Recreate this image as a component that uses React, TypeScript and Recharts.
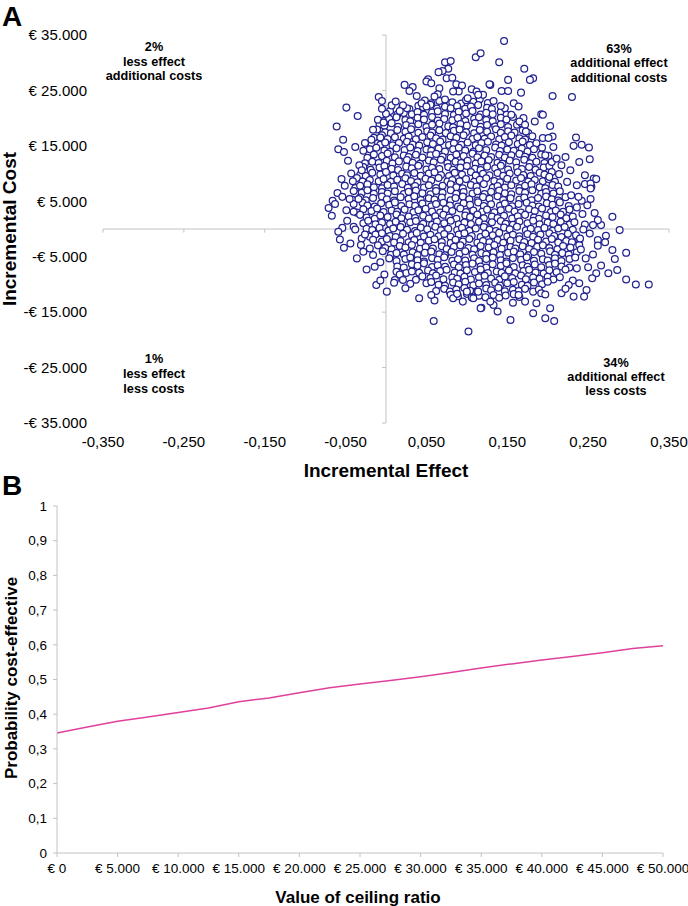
import { ScatterChart, Scatter, XAxis, YAxis, ReferenceLine, LineChart, Line } from 'recharts';

// Panel A: bootstrap replicates as [incremental effect, incremental cost €]
// dense body of the cloud, read row by row from top to bottom
const denseCloud: [number, number][] = [
  [.048,23200],[.056,22700],[.066,23100],[.073,23350],[.082,22850],[.093,22650],[.099,23250],[.108,22950],[.116,23400],[.126,22750],
  [.020,21850],[.029,21650],[.040,22250],[.046,21950],[.055,22400],[.063,21750],[.073,22050],[.080,21800],[.088,22200],[.098,21700],[.105,22100],[.114,22350],[.125,21850],[.131,21650],
  [.005,21300],[.014,20650],[.022,20950],[.032,20700],[.039,21100],[.047,20600],[.057,21000],[.064,21250],[.073,20750],[.084,20550],[.090,21150],[.099,20850],[.107,21300],[.117,20650],[.124,20950],[.132,20700],[.142,21100],[.149,20600],
  [-.003,19500],[.004,19900],[.013,20150],[.024,19650],[.030,19450],[.039,20050],[.047,19750],[.057,20200],[.064,19550],[.072,19850],[.082,19600],[.089,20000],[.098,19500],[.109,19900],[.115,20150],[.124,19650],[.132,19450],[.142,20050],[.149,19750],[.157,20200],
  [-.008,18950],[-.002,18650],[.007,19100],[.015,18450],[.025,18750],[.032,18500],[.040,18900],[.050,18400],[.057,18800],[.066,19050],[.077,18550],[.083,18350],[.092,18950],[.100,18650],[.110,19100],[.117,18450],[.125,18750],[.135,18500],[.142,18900],[.151,18400],[.162,18800],[.168,19050],
  [-.011,17950],[-.001,17450],[.006,17250],[.014,17850],[.024,17550],[.031,18000],[.040,17350],[.051,17650],[.057,17400],[.066,17800],[.074,17300],[.084,17700],[.091,17950],[.099,17450],[.109,17250],[.116,17850],[.125,17550],[.136,18000],[.142,17350],[.151,17650],[.159,17400],[.169,17800],[.176,17300],
  [-.015,16450],[-.005,16900],[.002,16250],[.011,16550],[.022,16300],[.028,16700],[.037,16200],[.045,16600],[.055,16850],[.062,16350],[.070,16150],[.080,16750],[.087,16450],[.096,16900],[.107,16250],[.113,16550],[.122,16300],[.130,16700],[.140,16200],[.147,16600],[.155,16850],[.165,16350],[.172,16150],[.181,16750],
  [-.018,15450],[-.007,15200],[-.001,15600],[.008,15100],[.016,15500],[.026,15750],[.033,15250],[.041,15050],[.051,15650],[.058,15350],[.067,15800],[.078,15150],[.084,15450],[.093,15200],[.101,15600],[.111,15100],[.118,15500],[.126,15750],[.136,15250],[.143,15050],[.152,15650],[.163,15350],[.169,15800],[.178,15150],[.186,15450],
  [-.020,14400],[-.012,14650],[-.002,14150],[.005,13950],[.013,14550],[.023,14250],[.030,14700],[.039,14050],[.050,14350],[.056,14100],[.065,14500],[.073,14000],[.083,14400],[.090,14650],[.098,14150],[.108,13950],[.115,14550],[.124,14250],[.135,14700],[.141,14050],[.150,14350],[.158,14100],[.168,14500],[.175,14000],[.183,14400],[.193,14650],
  [-.023,12850],[-.015,13450],[-.005,13150],[.002,13600],[.011,12950],[.022,13250],[.028,13000],[.037,13400],[.045,12900],[.055,13300],[.062,13550],[.070,13050],[.080,12850],[.087,13450],[.096,13150],[.107,13600],[.113,12950],[.122,13250],[.130,13000],[.140,13400],[.147,12900],[.155,13300],[.165,13550],[.172,13050],[.181,12850],[.192,13450],
  [-.026,11850],[-.017,12150],[-.009,11900],[.001,12300],[.008,11800],[.016,12200],[.026,12450],[.033,11950],[.042,11750],[.053,12350],[.059,12050],[.068,12500],[.076,11850],[.086,12150],[.093,11900],[.101,12300],[.111,11800],[.118,12200],[.127,12450],[.138,11950],[.144,11750],[.153,12350],[.161,12050],[.171,12500],[.178,11850],[.186,12150],[.196,11900],
  [-.028,11200],[-.019,10700],[-.008,11100],[-.002,11350],[.007,10850],[.015,10650],[.025,11250],[.032,10950],[.040,11400],[.050,10750],[.057,11050],[.066,10800],[.077,11200],[.083,10700],[.092,11100],[.100,11350],[.110,10850],[.117,10650],[.125,11250],[.135,10950],[.142,11400],[.151,10750],[.162,11050],[.168,10800],[.177,11200],[.185,10700],[.195,11100],[.202,11350],
  [-.032,9750],[-.025,9550],[-.017,10150],[-.007,9850],[0,10300],[.009,9650],[.020,9950],[.026,9700],[.035,10100],[.043,9600],[.053,10000],[.060,10250],[.068,9750],[.078,9550],[.085,10150],[.094,9850],[.105,10300],[.111,9650],[.120,9950],[.128,9700],[.138,10100],[.145,9600],[.153,10000],[.163,10250],[.170,9750],[.179,9550],[.190,10150],[.196,9850],[.205,10300],
  [-.036,9200],[-.029,8550],[-.020,8850],[-.009,8600],[-.003,9000],[.006,8500],[.014,8900],[.024,9150],[.031,8650],[.039,8450],[.049,9050],[.056,8750],[.065,9200],[.076,8550],[.082,8850],[.091,8600],[.099,9000],[.109,8500],[.116,8900],[.124,9150],[.134,8650],[.141,8450],[.150,9050],[.161,8750],[.167,9200],[.176,8550],[.184,8850],[.194,8600],[.201,9000],[.209,8500],
  [-.038,7400],[-.032,7800],[-.023,8050],[-.015,7550],[-.005,7350],[.002,7950],[.010,7650],[.020,8100],[.027,7450],[.036,7750],[.047,7500],[.053,7900],[.062,7400],[.070,7800],[.080,8050],[.087,7550],[.095,7350],[.105,7950],[.112,7650],[.121,8100],[.132,7450],[.138,7750],[.147,7500],[.155,7900],[.165,7400],[.172,7800],[.180,8050],[.190,7550],[.197,7350],[.206,7950],[.213,7650],
  [-.040,6850],[-.030,6550],[-.023,7000],[-.015,6350],[-.005,6650],[.002,6400],[.011,6800],[.022,6300],[.028,6700],[.037,6950],[.045,6450],[.055,6250],[.062,6850],[.070,6550],[.080,7000],[.087,6350],[.096,6650],[.107,6400],[.113,6800],[.122,6300],[.130,6700],[.140,6950],[.147,6450],[.155,6250],[.165,6850],[.172,6550],[.181,7000],[.192,6350],[.198,6650],[.207,6400],[.215,6800],
  [-.042,5300],[-.032,5700],[-.025,5200],[-.016,5600],[-.005,5850],[.001,5350],[.010,5150],[.018,5750],[.028,5450],[.035,5900],[.043,5250],[.053,5550],[.060,5300],[.069,5700],[.080,5200],[.086,5600],[.095,5850],[.103,5350],[.113,5150],[.120,5750],[.128,5450],[.138,5900],[.145,5250],[.154,5550],[.165,5300],[.171,5700],[.180,5200],[.188,5600],[.198,5850],[.205,5350],[.213,5150],[.222,5750],
  [-.040,4500],[-.029,4750],[-.023,4250],[-.014,4050],[-.006,4650],[.004,4350],[.011,4800],[.019,4150],[.029,4450],[.036,4200],[.045,4600],[.056,4100],[.062,4500],[.071,4750],[.079,4250],[.089,4050],[.096,4650],[.104,4350],[.114,4800],[.121,4150],[.130,4450],[.141,4200],[.147,4600],[.156,4100],[.164,4500],[.174,4750],[.181,4250],[.189,4050],[.199,4650],[.206,4350],[.215,4800],[.226,4150],
  [-.036,2950],[-.028,3550],[-.018,3250],[-.011,3700],[-.003,3050],[.007,3350],[.014,3100],[.023,3500],[.034,3000],[.040,3400],[.049,3650],[.057,3150],[.067,2950],[.074,3550],[.082,3250],[.092,3700],[.099,3050],[.108,3350],[.119,3100],[.125,3500],[.134,3000],[.142,3400],[.152,3650],[.159,3150],[.167,2950],[.177,3550],[.184,3250],[.193,3700],[.204,3050],[.210,3350],[.219,3100],[.227,3500],
  [-.032,2550],[-.024,2050],[-.014,1850],[-.007,2450],[.002,2150],[.013,2600],[.019,1950],[.028,2250],[.036,2000],[.046,2400],[.053,1900],[.061,2300],[.071,2550],[.078,2050],[.087,1850],[.098,2450],[.104,2150],[.113,2600],[.121,1950],[.131,2250],[.138,2000],[.146,2400],[.156,1900],[.163,2300],[.172,2550],[.183,2050],[.189,1850],[.198,2450],[.206,2150],[.216,2600],[.223,1950],[.231,2250],
  [-.028,1050],[-.022,1500],[-.013,850],[-.005,1150],[.005,900],[.012,1300],[.020,800],[.030,1200],[.037,1450],[.046,950],[.057,750],[.063,1350],[.072,1050],[.080,1500],[.090,850],[.097,1150],[.105,900],[.115,1300],[.122,800],[.131,1200],[.142,1450],[.148,950],[.157,750],[.165,1350],[.175,1050],[.182,1500],[.190,850],[.200,1150],[.207,900],[.216,1300],[.227,800],[.233,1200],
  [-.024,50],[-.017,-200],[-.008,200],[.003,-300],[.009,100],[.018,350],[.026,-150],[.036,-350],[.043,250],[.051,-50],[.061,400],[.068,-250],[.077,50],[.088,-200],[.094,200],[.103,-300],[.111,100],[.121,350],[.128,-150],[.136,-350],[.146,250],[.153,-50],[.162,400],[.173,-250],[.179,50],[.188,-200],[.196,200],[.206,-300],[.213,100],[.221,350],[.231,-150],
  [-.020,-1400],[-.013,-1000],[-.005,-750],[.005,-1250],[.012,-1450],[.021,-850],[.032,-1150],[.038,-700],[.047,-1350],[.055,-1050],[.065,-1300],[.072,-900],[.080,-1400],[.090,-1000],[.097,-750],[.106,-1250],[.117,-1450],[.123,-850],[.132,-1150],[.140,-700],[.150,-1350],[.157,-1050],[.165,-1300],[.175,-900],[.182,-1400],[.191,-1000],[.202,-750],[.208,-1250],[.217,-1450],[.225,-850],[.235,-1150],
  [-.016,-1950],[-.005,-2250],[.001,-1800],[.010,-2450],[.018,-2150],[.028,-2400],[.035,-2000],[.043,-2500],[.053,-2100],[.060,-1850],[.069,-2350],[.080,-2550],[.086,-1950],[.095,-2250],[.103,-1800],[.113,-2450],[.120,-2150],[.128,-2400],[.138,-2000],[.145,-2500],[.154,-2100],[.165,-1850],[.171,-2350],[.180,-2550],[.188,-1950],[.198,-2250],[.205,-1800],[.213,-2450],[.223,-2150],[.230,-2400],[.239,-2000],
  [-.010,-2950],[-.001,-3450],[.007,-3650],[.017,-3050],[.024,-3350],[.032,-2900],[.042,-3550],[.049,-3250],[.058,-3500],[.069,-3100],[.075,-3600],[.084,-3200],[.092,-2950],[.102,-3450],[.109,-3650],[.117,-3050],[.127,-3350],[.134,-2900],[.143,-3550],[.154,-3250],[.160,-3500],[.169,-3100],[.177,-3600],[.187,-3200],[.194,-2950],[.202,-3450],[.212,-3650],[.219,-3050],[.228,-3350],[.239,-2900],
  [-.004,-4000],[.006,-4650],[.013,-4350],[.022,-4600],[.033,-4200],[.039,-4700],[.048,-4300],[.056,-4050],[.066,-4550],[.073,-4750],[.081,-4150],[.091,-4450],[.098,-4000],[.107,-4650],[.118,-4350],[.124,-4600],[.133,-4200],[.141,-4700],[.151,-4300],[.158,-4050],[.166,-4550],[.176,-4750],[.183,-4150],[.192,-4450],[.203,-4000],[.209,-4650],[.218,-4350],[.226,-4600],[.236,-4200],
  [.004,-5300],[.013,-5800],[.024,-5400],[.030,-5150],[.039,-5650],[.047,-5850],[.057,-5250],[.064,-5550],[.072,-5100],[.082,-5750],[.089,-5450],[.098,-5700],[.109,-5300],[.115,-5800],[.124,-5400],[.132,-5150],[.142,-5650],[.149,-5850],[.157,-5250],[.167,-5550],[.174,-5100],[.183,-5750],[.194,-5450],[.200,-5700],[.209,-5300],[.217,-5800],[.227,-5400],[.234,-5150],
  [.014,-6750],[.022,-6950],[.032,-6350],[.039,-6650],[.047,-6200],[.057,-6850],[.064,-6550],[.073,-6800],[.084,-6400],[.090,-6900],[.099,-6500],[.107,-6250],[.117,-6750],[.124,-6950],[.132,-6350],[.142,-6650],[.149,-6200],[.158,-6850],[.169,-6550],[.175,-6800],[.184,-6400],[.192,-6900],[.202,-6500],[.209,-6250],[.217,-6750],[.227,-6950],
  [.025,-7950],[.032,-7650],[.041,-7900],[.052,-7500],[.058,-8000],[.067,-7600],[.075,-7350],[.085,-7850],[.092,-8050],[.100,-7450],[.110,-7750],[.117,-7300],[.126,-7950],[.137,-7650],[.143,-7900],[.152,-7500],[.160,-8000],[.170,-7600],[.177,-7350],[.185,-7850],[.195,-8050],[.202,-7450],[.211,-7750],[.222,-7300],
  [.037,-9150],[.045,-8550],[.055,-8850],[.062,-8400],[.071,-9050],[.082,-8750],[.088,-9000],[.097,-8600],[.105,-9100],[.115,-8700],[.122,-8450],[.130,-8950],[.140,-9150],[.147,-8550],[.156,-8850],[.167,-8400],[.173,-9050],[.182,-8750],[.190,-9000],[.200,-8600],[.207,-9100],[.215,-8700],
  [.050,-9800],[.056,-9550],[.065,-10050],[.073,-10250],[.083,-9650],[.090,-9950],[.098,-9500],[.108,-10150],[.115,-9850],[.124,-10100],[.135,-9700],[.141,-10200],[.150,-9800],[.158,-9550],[.168,-10050],[.175,-10250],[.183,-9650],[.193,-9950],[.200,-9500],
  [.062,-11200],[.072,-10800],[.079,-11300],[.087,-10900],[.097,-10650],[.104,-11150],[.113,-11350],[.124,-10750],[.130,-11050],[.139,-10600],[.147,-11250],[.157,-10950],[.164,-11200],[.172,-10800],[.182,-11300],[.189,-10900],
  [.080,-11850],[.089,-12150],[.100,-11700],[.106,-12350],[.115,-12050],[.123,-12300],[.133,-11900],[.140,-12400],[.148,-12000],[.158,-11750],[.165,-12250],
];

// scattered replicates round the edge of the cloud
const outerPoints: [number, number][] = [
  [.146,33900],[.111,31000],[.117,31700],[.140,30100],[.073,30100],[.080,30300],[.171,28900],[.182,27200],[.178,26900],[.206,24000],[.230,23800],[.151,26900],[.129,26000],
  [.077,28900],[.070,28500],[.065,28300],[.075,27200],[.082,27300],[.052,27000],[.050,26600],[.056,26300],[.023,26000],[.033,25600],[.029,24900],[.066,25400],[.064,24300],[.087,26100],[.094,25900],[.090,24800],[.083,24800],[.128,26100],[.106,25200],[.112,24800],[.120,24200],[.114,24200],
  [.038,24000],[.044,22700],[.050,22100],[.026,21800],[.060,23900],[.101,23600],[.133,23100],[.147,21800],[.155,20600],[.158,22700],[0,20800],[.007,22300],
  [.143,24900],[.151,24900],[.167,24600],[.164,22100],[.142,22200],
  [-.009,23800],[-.005,23100],[-.005,21700],[.012,23000],[.021,22300],[.017,21300],[-.049,21900],[-.035,20400],[-.061,18500],[-.053,16100],[-.059,14400],[-.052,13900],[-.038,14800],[-.026,15500],[-.018,16100],[-.028,14100],[-.016,17900],[-.010,19700],[-.003,19200],[-.007,16500],[-.033,11500],[-.030,10600],[-.043,10000],[-.051,7800],
  [-.047,12300],[-.055,9000],[-.041,8600],[-.060,6500],[-.066,5100],[-.048,1500],[-.044,-2600],[-.036,-5300],[-.024,-7300],[-.012,-10100],
  [-.071,3800],[-.067,2400],[-.063,4500],[-.054,5800],[-.045,5400],[-.034,5400],[-.049,3400],[-.040,3100],[-.054,200],[-.059,-500],[-.057,-1900],[-.052,-3400],[-.040,400],[-.038,-100],[-.030,-1700],[-.026,-1000],[-.031,-2900],[-.020,-3500],[-.016,-4700],[-.028,-4100],[-.014,-6800],[-.007,-6000],[-.002,-8200],[-.007,-9300],[.001,-11300],
  [.192,20700],[.194,20600],[.170,20000],[.165,19400],[.172,18800],[.184,19400],[.173,17600],[.203,18600],[.194,16400],[.206,16700],[.201,16400],[.235,16500],[.232,15000],[.242,15200],[.251,14700],[.252,12600],[.239,12100],[.222,13000],[.207,14800],[.201,13200],[.205,12100],[.197,13300],[.214,9900],[.202,9400],[.224,8500],[.246,9700],[.257,9100],[.260,9000],[.236,7900],[.246,8100],[.254,7600],[.253,8200],
  [.228,10600],[.217,11500],[.211,12700],
  [.253,7300],[.253,5400],[.242,5100],[.238,5800],[.229,6100],[.236,3900],[.243,2700],[.249,4300],[.258,2900],[.266,700],[.272,-1200],[.280,2200],[.289,-200],[.262,1600],[.256,700],[.246,800],[.244,-100],[.252,-800],[.262,-2000],[.271,-2400],[.262,-3000],[.240,-1700],[.241,-3700],[.247,-5300],[.256,-4600],[.297,-4300],[.280,-3800],[.283,-5400],[.275,-8000],[.286,-7400],[.266,-6600],[.250,-6900],[.260,-8000],[.255,-8900],[.236,-7100],[.231,-9300],[.226,-10100],[.239,-9800],[.297,-9100],[.309,-10000],[.325,-10000],
  [.248,-11000],[.245,-12200],[.232,-12200],[.217,-11600],[.222,-10800],[.192,-11600],[.197,-11800],[.186,-13400],[.182,-15200],[.203,-14300],[.197,-16100],[.208,-16600],[.154,-16400],[.138,-14900],[.133,-13700],[.172,-13100],[.164,-11900],[.157,-13300],[.118,-14200],
  [.013,-7700],[.017,-8200],[.011,-9200],[.010,-9700],[.021,-9200],[.030,-9900],[.024,-10700],[.041,-12500],[.060,-12900],[.056,-11900],[.059,-16600],[.102,-18500],[.083,-12500],[.095,-13100],[.108,-12500],[.117,-14300],[.129,-13100],[.114,-11300],[.100,-11300],[.088,-11700],
];

const effectTicks = [-0.35, -0.25, -0.15, -0.05, 0.05, 0.15, 0.25, 0.35];
const costTicks = [-35000, -25000, -15000, -5000, 5000, 15000, 25000, 35000];

// Panel B: acceptability curve
const ceilingRatio = [0, 2500, 5000, 7500, 10000, 12500, 15000, 17500, 20000, 22500, 25000, 27500, 30000, 32500, 35000, 37500, 40000, 42500, 45000, 47500, 50000];
const probCostEffective = [0.346, 0.363, 0.380, 0.392, 0.405, 0.418, 0.436, 0.447, 0.462, 0.476, 0.487, 0.497, 0.508, 0.520, 0.533, 0.545, 0.556, 0.566, 0.577, 0.589, 0.597];
const ceilingTicks = [0, 5000, 10000, 15000, 20000, 25000, 30000, 35000, 40000, 45000, 50000];
const probTicks = [0, 0.1, 0.2, 0.3, 0.4, 0.5, 0.6, 0.7, 0.8, 0.9, 1];

const FONT = '"Liberation Sans", Arial, Helvetica, sans-serif';
const AXIS_GREY = '#c2c2c2';
const DOT_BLUE = '#232390';

const simulations = [...denseCloud, ...outerPoints].map(([effect, cost]) => ({ effect, cost }));
const ceacData = ceilingRatio.map((ceiling, i) => ({ ceiling, prob: probCostEffective[i] }));

const dotted = (n: number) => String(Math.abs(n)).replace(/\B(?=(\d{3})+(?!\d))/g, '.');
const fmtEffect = (v: number) => v.toFixed(3).replace('.', ',');
const fmtCost = (v: number) => (v < 0 ? '-€ ' : '€ ') + dotted(v);
const fmtEuro = (v: number) => '€ ' + dotted(v);
const fmtProb = (v: number) => (v === 0 || v === 1 ? String(v) : v.toFixed(1).replace('.', ','));

function Ring(props: any) {
  const { cx, cy } = props;
  if (cx == null || cy == null) return <g />;
  return <circle cx={cx} cy={cy} r={3.4} fill="#fff" stroke={DOT_BLUE} strokeWidth={1.25} />;
}

export default function App() {
  const note = { fontSize: 12.7, fontWeight: 'bold' as const, textAnchor: 'middle' as const };
  return (
    <div style={{ position: 'absolute', left: 0, top: 0, width: 688, height: 906, background: '#fff', fontFamily: FONT }}>
      <div style={{ position: 'absolute', left: 0, top: 0 }}>
        <ScatterChart width={688} height={480} margin={{ top: 35, right: 19, bottom: 27, left: 0 }}>
          <XAxis
            type="number"
            dataKey="effect"
            domain={[-0.35, 0.35]}
            ticks={effectTicks}
            interval={0}
            tickFormatter={fmtEffect}
            axisLine={false}
            tickLine={false}
            tickMargin={7}
            height={30}
            tick={{ fontSize: 15, fill: '#000', fontFamily: FONT }}
          />
          <YAxis
            type="number"
            dataKey="cost"
            domain={[-35000, 35000]}
            ticks={costTicks}
            interval={0}
            tickFormatter={fmtCost}
            axisLine={false}
            tickLine={false}
            tickMargin={10}
            width={103}
            tick={{ fontSize: 15, fill: '#000', fontFamily: FONT }}
          />
          <ReferenceLine y={0} stroke={AXIS_GREY} />
          <ReferenceLine x={0} stroke={AXIS_GREY} />
          {effectTicks.map((v) => (
            <ReferenceLine key={'xt' + v} segment={[{ x: v, y: 0 }, { x: v, y: -650 }]} stroke={AXIS_GREY} />
          ))}
          {costTicks.map((v) => (
            <ReferenceLine key={'yt' + v} segment={[{ x: 0, y: v }, { x: -0.005, y: v }]} stroke={AXIS_GREY} />
          ))}
          <Scatter data={simulations} shape={(p: any) => <Ring {...p} />} isAnimationActive={false} />
        </ScatterChart>
      </div>

      <div style={{ position: 'absolute', left: 0, top: 480 }}>
        <LineChart width={688} height={426} data={ceacData} margin={{ top: 26, right: 25, bottom: 28, left: 0 }}>
          <XAxis
            type="number"
            dataKey="ceiling"
            domain={[0, 50000]}
            ticks={ceilingTicks}
            interval={0}
            tickFormatter={fmtEuro}
            stroke={AXIS_GREY}
            tickSize={4}
            tickMargin={6}
            height={25}
            tick={{ fontSize: 13.5, fill: '#000', fontFamily: FONT }}
          />
          <YAxis
            type="number"
            domain={[0, 1]}
            ticks={probTicks}
            interval={0}
            tickFormatter={fmtProb}
            stroke={AXIS_GREY}
            tickSize={4}
            tickMargin={6}
            width={57}
            tick={{ fontSize: 13.5, fill: '#000', fontFamily: FONT }}
          />
          <Line type="linear" dataKey="prob" stroke="#e0409c" strokeWidth={1.5} dot={false} isAnimationActive={false} />
        </LineChart>
      </div>

      <svg width={688} height={906} style={{ position: 'absolute', left: 0, top: 0, pointerEvents: 'none' }} fontFamily={FONT}>
        <text x={2} y={26} fontSize={28} fontWeight="bold">A</text>
        <text x={2} y={495} fontSize={28} fontWeight="bold">B</text>

        <text transform="translate(16,229) rotate(-90)" textAnchor="middle" fontSize={19} fontWeight="bold">Incremental Cost</text>
        <text x={386} y={477} textAnchor="middle" fontSize={19} fontWeight="bold">Incremental Effect</text>
        <text transform="translate(17,678) rotate(-90)" textAnchor="middle" fontSize={17} fontWeight="bold">Probability cost-effective</text>
        <text x={358} y={903} textAnchor="middle" fontSize={17} fontWeight="bold">Value of ceiling ratio</text>

        <text x={154} y={51} {...note}>2%</text>
        <text x={154} y={65.5} {...note}>less effect</text>
        <text x={154} y={79.5} {...note}>additional costs</text>

        <text x={619} y={52.5} {...note}>63%</text>
        <text x={619} y={67} {...note}>additional effect</text>
        <text x={619} y={81.5} {...note}>additional costs</text>

        <text x={154} y={362.5} {...note}>1%</text>
        <text x={154} y={378} {...note}>less effect</text>
        <text x={154} y={392.5} {...note}>less costs</text>

        <text x={616} y={366.5} {...note}>34%</text>
        <text x={616} y={381} {...note}>additional effect</text>
        <text x={616} y={395} {...note}>less costs</text>
      </svg>
    </div>
  );
}
